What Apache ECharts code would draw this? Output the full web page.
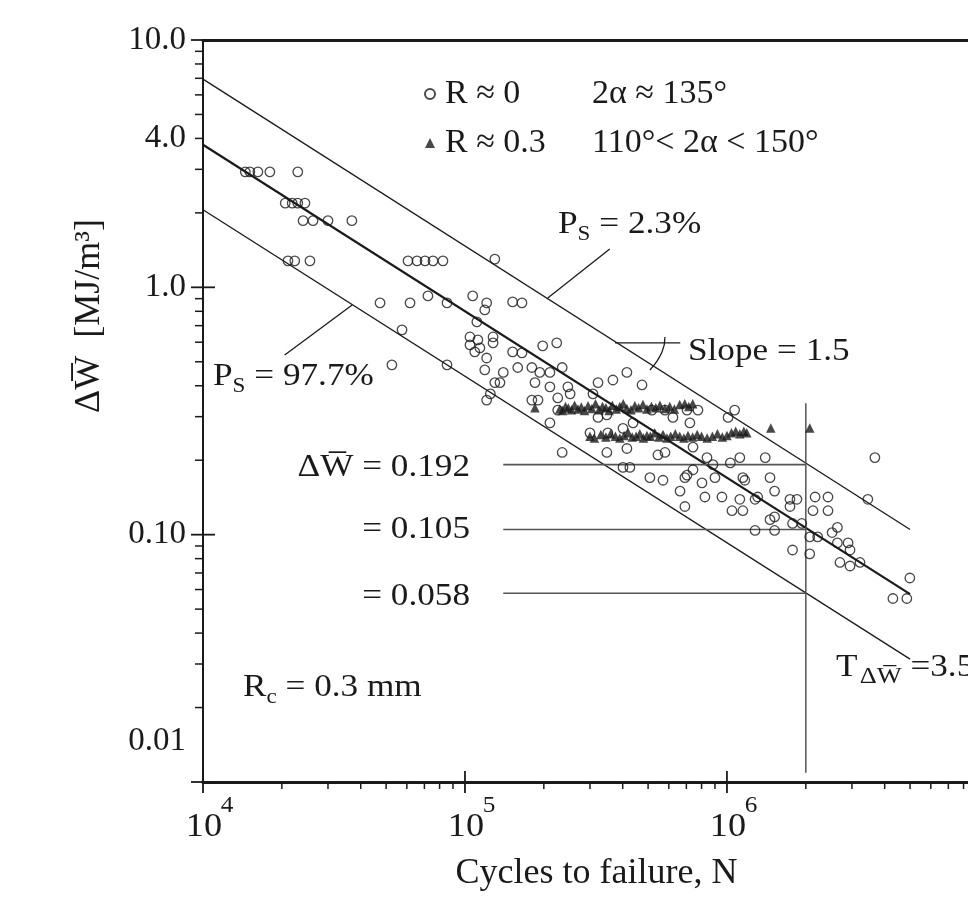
<!DOCTYPE html>
<html><head><meta charset="utf-8">
<script src="https://cdn.jsdelivr.net/npm/echarts@6/dist/echarts.min.js"></script>
<style>html,body{margin:0;padding:0;background:#fff}#c{width:968px;height:903px}</style>
</head><body><div id="c"></div>
<script>
// ---------- data ----------
const circN = [1.45e4,1.51e4,1.62e4,1.80e4,2.30e4, 2.06e4,2.19e4,2.30e4,2.45e4, 2.41e4,2.63e4,3.0e4,3.7e4, 2.11e4,2.24e4,2.56e4, 6.06e4,6.56e4,7.04e4,7.55e4,8.24e4, 1.30e5, 7.22e4,1.07e5,
 4.74e4,6.17e4,8.54e4,1.21e5,1.19e5,1.52e5,1.65e5, 1.11e5, 5.75e4,
 1.045e5,1.12e5,1.045e5,1.09e5,1.14e5,1.28e5,1.28e5,1.52e5,1.65e5,1.98e5,2.24e5, 1.21e5, 5.26e4,8.54e4,
 1.19e5,1.40e5,1.59e5,1.80e5,1.93e5,2.11e5,2.35e5,
 1.30e5,1.36e5,1.85e5,2.11e5,2.47e5,3.22e5,3.67e5,4.15e5,4.74e5,
 1.25e5,1.80e5,1.90e5,2.26e5,2.52e5,3.08e5,1.21e5,
 2.26e5,5.17e5,5.80e5,7.04e5,7.75e5,1.07e6,1.01e6,
 2.11e5,3.22e5,3.48e5,4.01e5,4.38e5,6.22e5,7.22e5, 3.0e5,3.51e5,
 2.35e5,3.48e5,4.15e5,5.45e5,5.80e5,7.42e5,8.39e5,1.12e6,1.40e6,1.03e6,3.67e6,
 4.01e5,4.26e5,7.04e5,7.42e5,8.84e5,9.0e5,1.15e6,1.17e6,1.46e6,
 5.08e5,5.70e5,6.91e5,8.03e5,
 6.62e5,8.24e5,9.57e5,1.12e6,1.28e6,1.31e6,1.52e6,1.74e6,1.85e6,2.17e6,2.43e6,3.45e6,
 6.91e5,1.045e6,1.15e6,1.74e6,2.13e6,2.43e6,
 1.46e6,1.52e6,1.78e6,1.93e6,1.52e6,1.28e6,
 2.07e6,2.22e6,2.52e6,2.64e6,2.64e6,2.90e6,2.95e6,1.78e6,2.07e6,2.70e6,2.95e6,3.22e6,
 4.99e6,4.30e6,4.86e6];
const circV = [2.93,2.93,2.93,2.93,2.93, 2.19,2.19,2.19,2.19, 1.86,1.86,1.86,1.86, 1.28,1.28,1.28, 1.28,1.28,1.28,1.28,1.28, 1.30, 0.923,0.923,
 0.865,0.865,0.865,0.865,0.810,0.873,0.865, 0.725, 0.673,
 0.630,0.613,0.585,0.548,0.569,0.630,0.596,0.548,0.543,0.580,0.596, 0.518, 0.486,0.486,
 0.464,0.453,0.474,0.474,0.453,0.453,0.474,
 0.412,0.412,0.412,0.396,0.396,0.412,0.422,0.453,0.403,
 0.371,0.350,0.350,0.357,0.371,0.371,0.350,
 0.319,0.319,0.319,0.319,0.319,0.319,0.298,
 0.283,0.298,0.305,0.269,0.283,0.298,0.283, 0.258,0.258,
 0.215,0.215,0.223,0.210,0.215,0.226,0.205,0.205,0.205,0.195,0.205,
 0.187,0.187,0.174,0.183,0.192,0.170,0.170,0.166,0.170,
 0.170,0.166,0.170,0.162,
 0.150,0.142,0.142,0.139,0.139,0.142,0.150,0.139,0.139,0.142,0.142,0.139,
 0.130,0.125,0.125,0.130,0.125,0.125,
 0.115,0.118,0.111,0.111,0.104,0.104,
 0.098,0.098,0.102,0.107,0.0926,0.0926,0.0867,0.0867,0.0836,0.0772,0.0747,0.0772,
 0.0668,0.0552,0.0552];

const triN = [1.85e5,2.30e5,2.36e5,2.42e5,2.48e5,2.55e5,2.62e5,2.70e5,2.78e5,2.86e5,2.95e5,3.05e5,3.15e5,3.25e5,3.35e5,3.45e5,3.55e5,3.65e5,3.78e5,3.90e5,4.02e5,4.15e5,4.30e5,4.45e5,4.60e5,4.78e5,4.95e5,5.15e5,5.35e5,5.55e5,5.8e5,6.05e5,6.3e5,6.6e5,6.9e5,7.15e5,7.4e5,
 3.0e5,3.12e5,3.3e5,3.45e5,3.6e5,3.75e5,3.9e5,4.05e5,4.2e5,4.35e5,4.5e5,4.65e5,4.8e5,4.95e5,5.1e5,5.3e5,5.5e5,5.7e5,5.9e5,6.1e5,6.35e5,6.6e5,6.85e5,7.1e5,7.4e5,7.7e5,8.0e5,8.4e5,8.8e5,9.2e5,9.6e5,1.0e6,1.04e6,1.08e6,1.12e6,1.16e6,1.19e6,
 1.47e6,2.07e6];
const triV = [0.326,0.322,0.318,0.33,0.325,0.32,0.334,0.322,0.328,0.318,0.332,0.324,0.338,0.32,0.33,0.326,0.318,0.334,0.322,0.33,0.338,0.324,0.32,0.332,0.326,0.336,0.322,0.33,0.326,0.334,0.324,0.33,0.322,0.336,0.338,0.33,0.338,
 0.25,0.246,0.254,0.248,0.256,0.25,0.246,0.252,0.258,0.248,0.25,0.256,0.246,0.252,0.25,0.258,0.248,0.254,0.246,0.25,0.256,0.25,0.246,0.252,0.248,0.254,0.25,0.246,0.25,0.256,0.248,0.252,0.258,0.262,0.256,0.262,0.258,
 0.270,0.270];

// scatter-band lines (P_S = 2.3 %, mean, P_S = 97.7 %)
const bandN  = [1e4, 5e6];
const upperV = [6.95, 0.105];
const meanV  = [3.77, 0.0575];
const lowerV = [2.06, 0.0314];
// reference levels at N = 2e6
const levelV = [0.192, 0.105, 0.058];
const levelN = [1.4e5, 2e6];
const tLineV = [0.0109, 0.34];
// leader lines / slope mark
const leadUpper = [[2.07e5, 0.906], [3.57e5, 1.43]];
const leadLower = [[3.71e4, 0.849], [2.05e4, 0.533]];
const slopeBar  = [[3.74e5, 0.596], [6.63e5, 0.596]];
const slopeArc  = [[5.8e5, 0.630], [5.65e5, 0.548], [5.08e5, 0.463]];
// axes (the figure is cut at the right edge, a little before 10^7)
const xMin = 1e4, xMax = 8.32e6, yMin = 0.01, yMax = 10;
const xMajor = [1e4, 1e5, 1e6];
const xMajorExp = ['4', '5', '6'];
const xMinor = [2e4,3e4,4e4,5e4,6e4,7e4,8e4,9e4, 2e5,3e5,4e5,5e5,6e5,7e5,8e5,9e5, 2e6,3e6,4e6,5e6,6e6,7e6,8e6];
const yMajor = [0.01, 0.1, 1, 10];
const yMinor = [0.02,0.03,0.04,0.05,0.06,0.07,0.08,0.09, 0.2,0.3,0.4,0.5,0.6,0.7,0.8,0.9, 2,3,4,5,6,7,8,9];
const yLabelMap = {'-2': '0.01', '-1': '0.10', '0': '1.0', '1': '10.0'};
const yExtraLabelV = [4];
const yExtraLabelT = ['4.0'];

// ---------- chart ----------
const FONT = '"Liberation Serif","DejaVu Serif",serif';
const INK = '#1a1a1a';
const SX = 1.1; // the printed figure is slightly stretched horizontally
const chart = echarts.init(document.getElementById('c'), null, {renderer: 'canvas'});

function lineSeries(data, width, color, smooth) {
  return {type: 'line', data: data, symbol: 'none', smooth: !!smooth, silent: true,
    lineStyle: {color: color || INK, width: width}, z: 3, animation: false};
}
const tickData = [].concat(
  xMajor.map(v => [v, yMin, 0]), xMinor.map(v => [v, yMin, 1]),
  yMajor.map(v => [xMin, v, 2]), yMinor.map(v => [xMin, v, 3]));

const series = [
  {name: 'R ≈ 0', type: 'scatter', data: circN.map((n, i) => [n, circV[i]]), symbol: 'circle', symbolSize: 9.5,
   itemStyle: {color: 'rgba(0,0,0,0)', borderColor: INK, borderWidth: 1.3}, z: 4},
  {name: 'R ≈ 0.3', type: 'scatter', data: triN.map((n, i) => [n, triV[i]]), symbol: 'triangle', symbolSize: 9.5,
   itemStyle: {color: INK}, z: 5},
  lineSeries(bandN.map((n, i) => [n, upperV[i]]), 1.3),
  lineSeries(bandN.map((n, i) => [n, meanV[i]]), 2.2),
  lineSeries(bandN.map((n, i) => [n, lowerV[i]]), 1.3),
  ...levelV.map(v => lineSeries(levelN.map(n => [n, v]), 1.6, '#555')),
  lineSeries(tLineV.map(v => [2e6, v]), 1.5, '#555'),
  lineSeries(leadUpper, 1.3), lineSeries(leadLower, 1.3), lineSeries(slopeBar, 1.3),
  lineSeries(slopeArc, 1.3, INK, true),
  // axis ticks: majors cross the axis, minors point outward
  {type: 'custom', data: tickData, clip: false, silent: true, z: 6,
   renderItem: function (params, api) {
     const p = api.coord([api.value(0), api.value(1)]);
     const k = api.value(2);
     let s;
     if (k === 0) s = {x1: p[0], y1: p[1] - 11, x2: p[0], y2: p[1] + 11};
     else if (k === 1) s = {x1: p[0], y1: p[1], x2: p[0], y2: p[1] + 7};
     else if (k === 2) s = {x1: p[0] - 12, y1: p[1], x2: p[0] + 12, y2: p[1]};
     else s = {x1: p[0] - 8, y1: p[1], x2: p[0], y2: p[1]};
     return {type: 'line', shape: s, style: {stroke: INK, lineWidth: k % 2 === 0 ? 1.8 : 1.5}};
   }},
  // x tick labels 10^n
  {type: 'custom', data: xMajor.map((v, i) => [v, yMin, i]), clip: false, silent: true,
   renderItem: function (params, api) {
     const p = api.coord([api.value(0), api.value(1)]);
     const e = xMajorExp[api.value(2)];
     return {type: 'group', children: [
       {type: 'text', x: p[0] + 1, y: p[1] + 45, scaleX: SX,
        style: {text: '10', font: '33px ' + FONT, fill: INK, align: 'center', verticalAlign: 'middle'}},
       {type: 'text', x: p[0] + 24, y: p[1] + 24, scaleX: SX,
        style: {text: e, font: '23px ' + FONT, fill: INK, align: 'center', verticalAlign: 'middle'}}
     ]};
   }},
  // extra y label 4.0
  {type: 'custom', data: yExtraLabelV.map((v, i) => [xMin, v, i]), clip: false, silent: true,
   renderItem: function (params, api) {
     const p = api.coord([api.value(0), api.value(1)]);
     return {type: 'text', x: p[0] - 17, y: p[1],
       style: {text: yExtraLabelT[api.value(2)], font: '33px ' + FONT, fill: INK, align: 'right', verticalAlign: 'middle'}};
   }}
];

const T = 32; // annotation font size
function txt(x, y, text, rich, align) {
  return {type: 'text', x: x, y: y, scaleX: SX, silent: true, z: 10,
    style: {text: text, rich: rich, font: T + 'px ' + FONT, fill: INK,
      align: align || 'left', verticalAlign: 'middle', textAlign: align || 'left', textVerticalAlign: 'middle'}};
}
const subRich = {
  n: {fontSize: T, fontFamily: FONT, color: INK, lineHeight: 40},
  s: {fontSize: 21, fontFamily: FONT, color: INK, lineHeight: 22, padding: [18, 0, 0, 0]},
  t: {fontSize: 24, fontFamily: FONT, color: INK, lineHeight: 24, padding: [18, 0, 0, 2]}
};

chart.setOption({
  animation: false,
  backgroundColor: '#fff',
  grid: {left: 203, top: 40, right: 0, bottom: 121, containLabel: false},
  legend: {
    left: 419, top: 72, orient: 'vertical', itemGap: 15, itemWidth: 10, itemHeight: 10,
    selectedMode: false, data: ['R ≈ 0', 'R ≈ 0.3'],
    textStyle: {fontSize: 34, fontFamily: FONT, color: INK,
      rich: {a: {fontSize: 34, fontFamily: FONT, color: INK, width: 147, padding: [0, 0, 0, 5]},
             b: {fontSize: 34, fontFamily: FONT, color: INK}}},
    formatter: function (name) {
      return name === 'R ≈ 0' ? '{a|R ≈ 0}{b|2α ≈ 135°}' : '{a|R ≈ 0.3}{b|110°< 2α < 150°}';
    }
  },
  xAxis: [
    {type: 'log', logBase: 10, min: xMin, max: xMax, position: 'bottom',
     axisLine: {lineStyle: {color: INK, width: 3}}, axisTick: {show: false}, splitLine: {show: false}, minorTick: {show: false},
     axisLabel: {show: false},
     name: 'Cycles to failure, N', nameLocation: 'middle', nameGap: 74,
     nameTextStyle: {fontSize: 36, fontFamily: FONT, color: INK, padding: [0, 0, 0, 22]}},
    {type: 'log', logBase: 10, min: xMin, max: xMax, position: 'top',
     axisLine: {lineStyle: {color: INK, width: 3}}, axisTick: {show: false}, axisLabel: {show: false}, splitLine: {show: false}}
  ],
  yAxis: [
    {type: 'log', logBase: 10, min: yMin, max: yMax,
     axisLine: {show: true, lineStyle: {color: INK, width: 2}}, axisTick: {show: false}, splitLine: {show: false},
     axisLabel: {margin: 17, color: INK, fontSize: 33, fontFamily: FONT,
       formatter: function (v) { const e = String(Math.round(Math.log10(v))); return e === '-2' ? '{lo|0.01}' : (yLabelMap[e] || ''); },
       rich: {lo: {fontSize: 33, fontFamily: FONT, color: INK, padding: [0, 0, 82, 0]}}}}
  ],
  graphic: [
    {type: 'text', x: 90, y: 316, rotation: Math.PI / 2, silent: true,
     style: {text: 'ΔW\u0305  [MJ/m³]', font: '36px ' + FONT, fill: INK, align: 'center', verticalAlign: 'middle',
       textAlign: 'center', textVerticalAlign: 'middle'}},
    txt(558, 225, '{n|P}{s|S}{n| = 2.3%}', subRich),
    txt(213, 377, '{n|P}{s|S}{n| = 97.7%}', subRich),
    txt(688, 352, 'Slope = 1.5'),
    txt(470, 468, 'ΔW\u0305 = 0.192', null, 'right'),
    txt(470, 530, '= 0.105', null, 'right'),
    txt(470, 597, '= 0.058', null, 'right'),
    txt(243, 688, '{n|R}{s|c}{n| = 0.3 mm}', subRich),
    txt(836, 668, '{n|T}{t|ΔW\u0305}{n| =3.5}', subRich)
  ],
  series: series
});
</script></body></html>
